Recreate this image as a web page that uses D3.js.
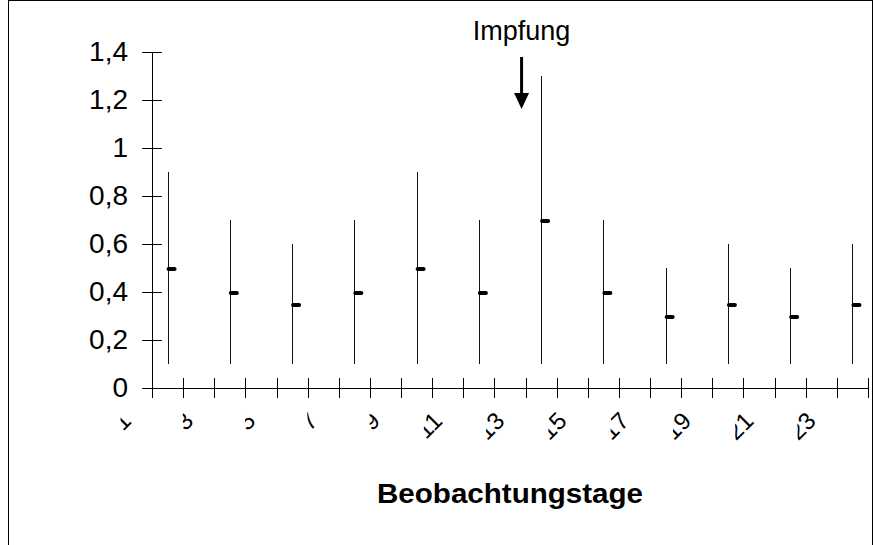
<!DOCTYPE html>
<html>
<head>
<meta charset="utf-8">
<script src="https://cdn.jsdelivr.net/npm/d3@7"></script>
<style>
  body { margin: 0; background: #fff; }
  svg { display: block; font-family: "Liberation Sans", Arial, sans-serif; }
</style>
</head>
<body>
<svg class="chart"></svg>
<script>
// categories on the x axis (observation days)
var days = d3.range(1, 24);
// days that carry a measurement
var obsDays = [1, 3, 5, 7, 9, 11, 13, 15, 17, 19, 21, 23];
var high = [0.9, 0.7, 0.6, 0.7, 0.9, 0.7, 1.3, 0.7, 0.5, 0.6, 0.5, 0.6];
var low  = [0.1, 0.1, 0.1, 0.1, 0.1, 0.1, 0.1, 0.1, 0.1, 0.1, 0.1, 0.1];
var mean = [0.5, 0.4, 0.35, 0.4, 0.5, 0.4, 0.7, 0.4, 0.3, 0.35, 0.3, 0.35];
var yTicks = [0, 0.2, 0.4, 0.6, 0.8, 1, 1.2, 1.4];
var vaccinationDay = 13;

var W = 875, H = 545;
var svg = d3.select(".chart").attr("width", W).attr("height", H),
    margin = {top: 52, right: 7, bottom: 157, left: 152},
    width = W - margin.left - margin.right,
    height = H - margin.top - margin.bottom;

// frame round the whole chart
svg.append("rect")
    .attr("x", 8.5).attr("y", 0.5)
    .attr("width", 864).attr("height", 600)
    .attr("fill", "none").attr("stroke", "#000");

var g = svg.append("g").attr("transform", "translate(" + margin.left + "," + margin.top + ")");

var x = d3.scaleBand().domain(days).range([0, width]);
var y = d3.scaleLinear().domain([0, 1.4]).range([height, 0]);
var xc = function(d) { return x(d) + x.bandwidth() / 2; };

var fmt = function(d) { return String(d).replace(".", ","); };

// y axis, ticks crossing the line
var yAxis = g.append("g")
    .call(d3.axisLeft(y).tickValues(yTicks).tickSize(10).tickFormat(fmt));
yAxis.select(".domain").remove();
yAxis.append("line").attr("x1", 0.5).attr("x2", 0.5).attr("y1", 0).attr("y2", height).attr("stroke", "#000");
yAxis.selectAll(".tick line").attr("x1", 10).attr("x2", -10);
yAxis.selectAll(".tick text")
    .attr("x", -24)
    .attr("font-size", 28)
    .attr("fill", "#000")
    .attr("font-family", "Liberation Sans, Arial, sans-serif");

// x axis: ticks on the category boundaries
var bounds = days.map(function(d) { return x(d); }).concat([width]);
var xAxis = g.append("g").attr("transform", "translate(0," + height + ")");
xAxis.append("line").attr("x1", -10).attr("x2", width).attr("y1", 0.5).attr("y2", 0.5).attr("stroke", "#000");
xAxis.selectAll("line.tk").data(bounds).enter().append("line")
    .attr("class", "tk")
    .attr("x1", function(d) { return Math.round(d) + 0.5; })
    .attr("x2", function(d) { return Math.round(d) + 0.5; })
    .attr("y1", -10).attr("y2", 10)
    .attr("stroke", "#000");

// clipped, rotated day labels (only fragments show, as in the original)
var fs = 24;
var labs = xAxis.selectAll("g.lab").data(obsDays).enter().append("g").attr("class", "lab");
labs.each(function(d, i) {
  var cx = xc(d) - 46;
  var cy = 33;
  var cl = cx - (d < 10 ? 1 : 9);
  var id = "clipLab" + i;
  var cp = d3.select(this).append("clipPath").attr("id", id);
  cp.append("rect").attr("x", cl).attr("y", 14).attr("width", 40).attr("height", 50);
  d3.select(this).append("g").attr("clip-path", "url(#" + id + ")")
    .append("text")
      .attr("transform", "translate(" + cx + "," + cy + ") rotate(-45)")
      .attr("x", fs * 0.278)
      .attr("y", fs * 0.358)
      .attr("text-anchor", "end")
      .attr("font-size", fs)
      .text(d);
});

// high-low lines
var pts = obsDays.map(function(d, i) { return {day: d, high: high[i], low: low[i], mean: mean[i]}; });
g.selectAll("line.hl").data(pts).enter().append("line")
    .attr("class", "hl")
    .attr("x1", function(d) { return Math.round(xc(d.day)) + 0.5; })
    .attr("x2", function(d) { return Math.round(xc(d.day)) + 0.5; })
    .attr("y1", function(d) { return y(d.high); })
    .attr("y2", function(d) { return y(d.low); })
    .attr("stroke", "#111").attr("stroke-width", 1);

// mean marks
g.selectAll("line.mean").data(pts).enter().append("line")
    .attr("class", "mean")
    .attr("x1", function(d) { return xc(d.day) + 1; })
    .attr("x2", function(d) { return xc(d.day) + 7; })
    .attr("y1", function(d) { return y(d.mean) + 1; })
    .attr("y2", function(d) { return y(d.mean) + 1; })
    .attr("stroke", "#000").attr("stroke-width", 4).attr("stroke-linecap", "round");

// annotation
var ax = x(vaccinationDay) - 4;
g.append("text")
    .attr("x", ax).attr("y", 40 - margin.top)
    .attr("text-anchor", "middle")
    .attr("font-size", 27)
    .text("Impfung");
g.append("line")
    .attr("x1", ax).attr("x2", ax)
    .attr("y1", 57 - margin.top).attr("y2", 95 - margin.top)
    .attr("stroke", "#000").attr("stroke-width", 3);
g.append("path")
    .attr("d", "M" + (ax - 7.5) + "," + (93 - margin.top) + "L" + (ax + 7.5) + "," + (93 - margin.top) + "L" + ax + "," + (109 - margin.top) + "Z")
    .attr("fill", "#000");

// axis title
svg.append("text")
    .attr("x", 510).attr("y", 503)
    .attr("text-anchor", "middle")
    .attr("font-size", 28)
    .attr("font-weight", "bold")
    .attr("textLength", 266)
    .attr("lengthAdjust", "spacingAndGlyphs")
    .text("Beobachtungstage");
</script>
</body>
</html>
